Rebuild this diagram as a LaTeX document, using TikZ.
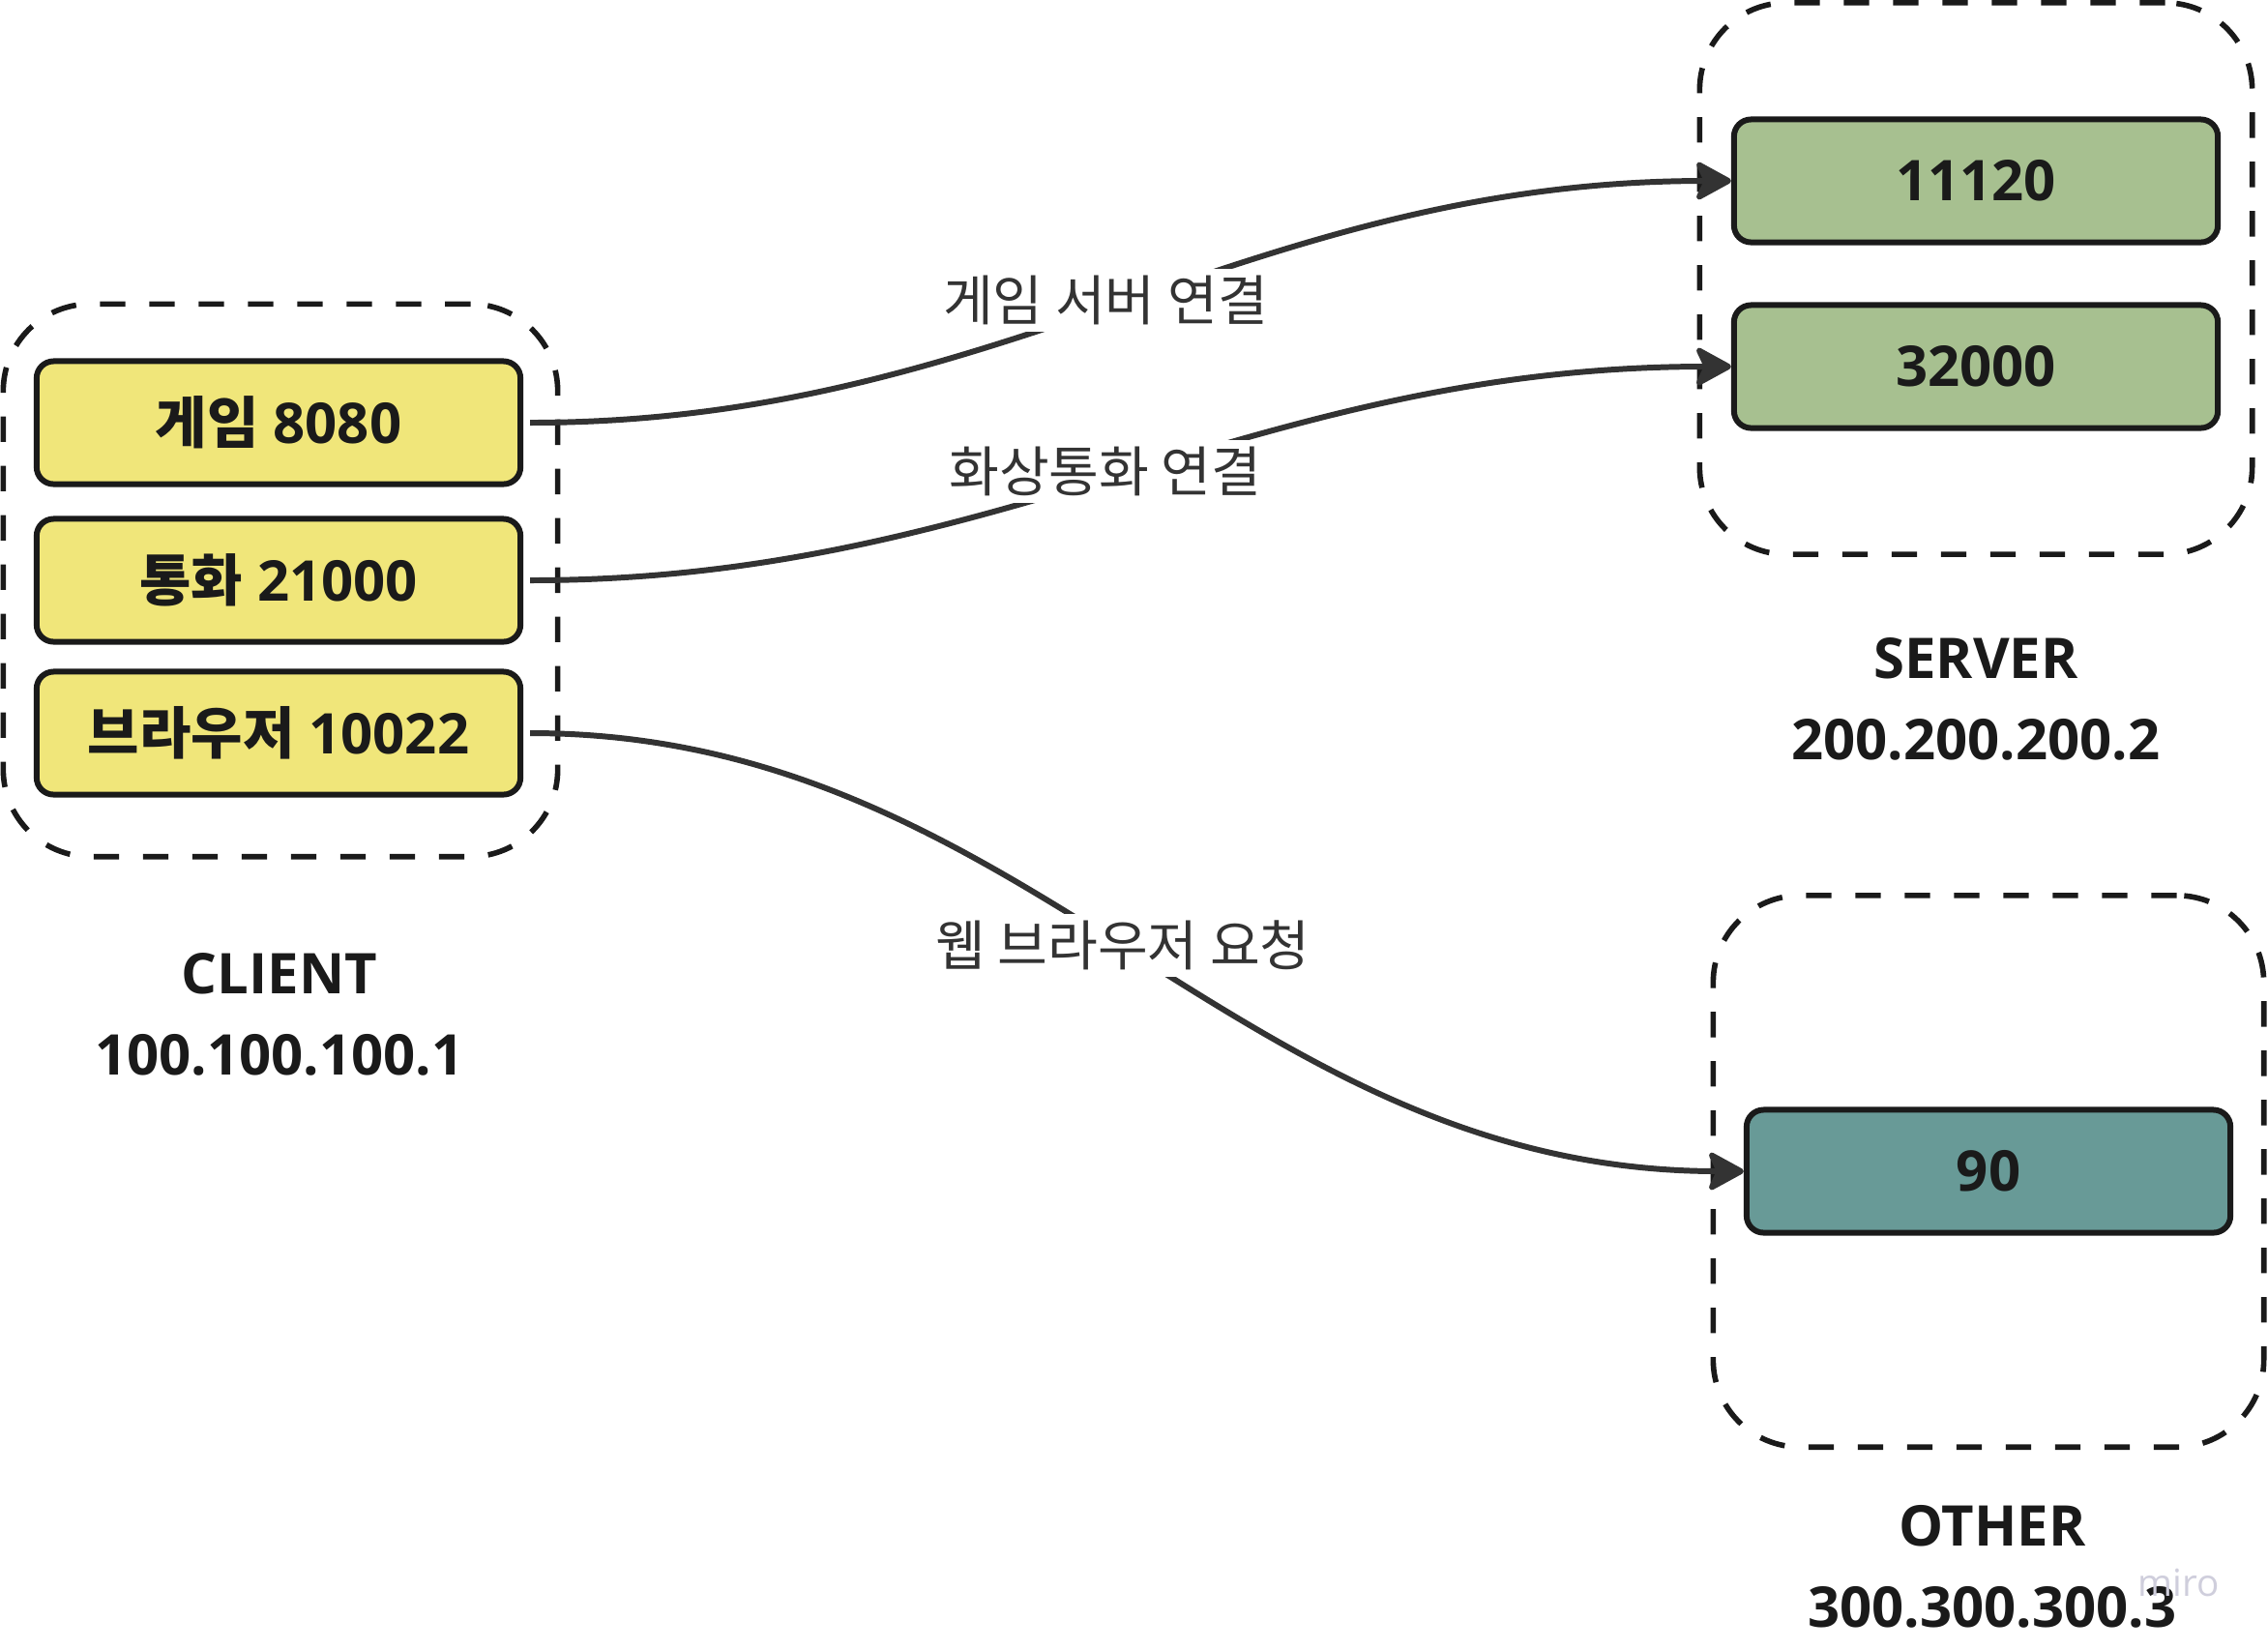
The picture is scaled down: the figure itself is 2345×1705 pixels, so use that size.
\documentclass[tikz,border=0pt]{standalone}
\usepackage{fontspec}
\setmainfont{Open Sans}
\newfontfamily\kr{Noto Sans CJK KR}
\usetikzlibrary{arrows.meta}
\definecolor{portyellow}{HTML}{F0E67A}
\definecolor{portgreen}{HTML}{A7C090}
\definecolor{portteal}{HTML}{689A97}
\definecolor{ink}{HTML}{1A1A1A}
\definecolor{wire}{HTML}{333333}
\definecolor{mark}{HTML}{CFCEDC}
\tikzset{
  port/.style={draw=ink, line width=1.7pt, rounded corners=5pt, minimum width=5cm, minimum height=1.27cm,
    font=\fontsize{16.5}{20}\selectfont\bfseries, text=ink},
  host/.style={draw=ink, line width=1.6pt, dash pattern=on 7.5pt off 7pt, rounded corners=0.9cm},
  hostname/.style={font=\fontsize{16.5}{24}\selectfont\bfseries, text=ink, align=center},
  link/.style={draw=wire, line width=1.7pt, -{Stealth[length=12pt,width=13pt,inset=3pt,round]}, shorten <=2pt},
  linklabel/.style={fill=white, text=wire, font=\kr\fontsize{16}{19}\selectfont, inner sep=2pt}
}
\begin{document}
\begin{tikzpicture}[x=0.01cm,y=-0.01cm]
\useasboundingbox (0,0) rectangle (2345,1705);
% hosts
\node[host, minimum width=5.73cm, minimum height=5.71cm] (client) at (290,600) {};
\node[host, minimum width=5.71cm, minimum height=5.70cm] (server) at (2043,288) {};
\node[host, minimum width=5.69cm, minimum height=5.70cm] (other) at (2056,1211) {};
% ports
\node[port, fill=portyellow] (game) at (288,437) {{\kr 게임} 8080};
\node[port, fill=portyellow] (call) at (288,600) {{\kr 통화} 21000};
\node[port, fill=portyellow] (browser) at (288,758) {{\kr 브라우저} 10022};
\node[port, fill=portgreen] (s11120) at (2043,187) {11120};
\node[port, fill=portgreen] (s32000) at (2043,379) {32000};
\node[port, fill=portteal] (o90) at (2056,1211) {90};
% names
\node[hostname] (clientname) at (289,1049) {CLIENT\\100.100.100.1};
\node[hostname] (servername) at (2043,723) {SERVER\\200.200.200.2};
\node[hostname] (othername) at (2060,1620) {OTHER\\300.300.300.3};
\node[text=mark, font=\fontsize{11}{11}\selectfont] (miro) at (2253,1636) {miro};
% links
\draw[link] (game.east) to[out=0,in=180] node[linklabel, pos=0.48, yshift=2.5pt] {게임 서버 연결} (s11120.west);
\draw[link] (call.east) to[out=0,in=180] node[linklabel, pos=0.48, yshift=2.5pt] {화상통화 연결} (s32000.west);
\draw[link] (browser.east) to[out=0,in=180] node[linklabel, pos=0.49] {웹 브라우저 요청} (o90.west);
\end{tikzpicture}
\end{document}
